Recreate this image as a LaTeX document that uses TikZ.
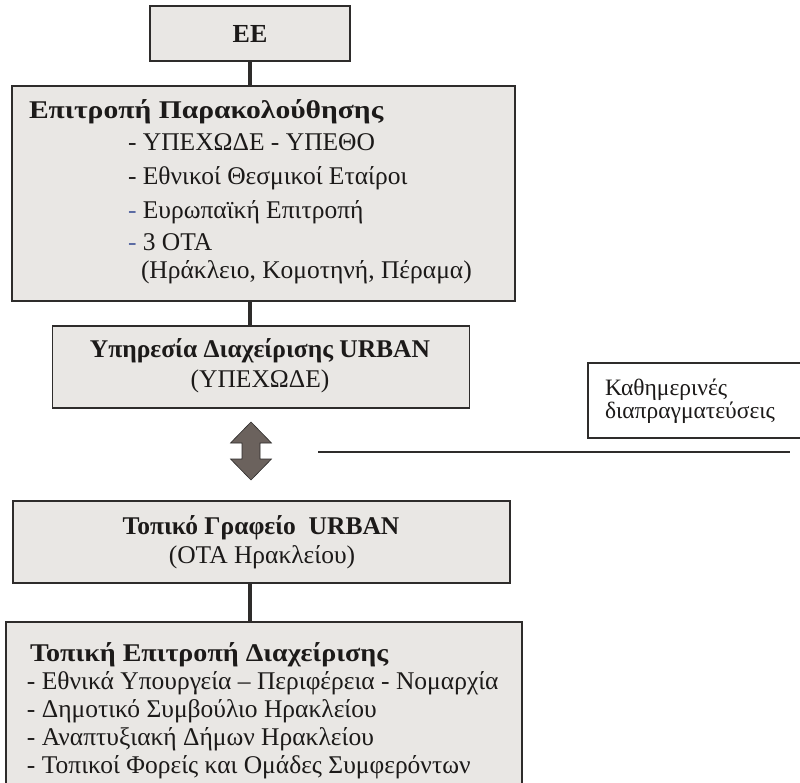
\documentclass[tikz,border=0pt]{standalone}
\usepackage{fontspec}
\usepackage{graphicx}
\setmainfont{Liberation Serif}
\definecolor{boxfill}{HTML}{E9E7E4}
\definecolor{ink}{HTML}{1C1A19}
\definecolor{edge}{HTML}{2E2C2B}
\definecolor{arrowfill}{HTML}{6B625D}
\definecolor{dashblue}{HTML}{5566A0}
\tikzset{
  box/.style={draw=edge, fill=boxfill, line width=1.4pt, inner sep=0pt, outer sep=0pt, anchor=north west},
  plain/.style={draw=edge, fill=white, line width=1.2pt, inner sep=0pt, outer sep=0pt, anchor=north west},
  txt/.style={inner sep=0pt, outer sep=0pt, text=ink, font=\fontsize{25.5}{28}\selectfont},
  btxt/.style={txt, font=\fontsize{25.5}{28}\selectfont\bfseries},
  stxt/.style={txt, font=\fontsize{23.5}{26}\selectfont},
  conn/.style={draw=edge, line width=4pt},
  thin/.style={draw=edge, line width=1.3pt},
}
\begin{document}
\begin{tikzpicture}[x=1pt,y=-1pt]
\useasboundingbox (0,0) rectangle (800,783);
\clip (0,0) rectangle (800,783);
\fill[white] (0,0) rectangle (800,783);
% boxes
\node[box, minimum width=200pt, minimum height=55pt] (b1) at (150,6) {};
\node[box, minimum width=503pt, minimum height=215pt] (b2) at (12,86) {};
\node[box, minimum width=417pt, minimum height=82pt] (b3) at (52.5,326) {};
\node[box, minimum width=497pt, minimum height=82pt] (b4) at (13,501) {};
\node[box, minimum width=516pt, minimum height=180pt] (b5) at (6,622) {};
\node[plain, minimum width=230pt, minimum height=75pt] (side) at (588,363) {};
% connectors
\draw[conn] (b1.south) -- (b1.south |- b2.north);
\draw[conn] (b1.south |- b2.south) -- (b1.south |- b3.north);
\draw[conn] (b1.south |- b4.south) -- (b1.south |- b5.north);
% double arrow
\coordinate (atop) at (251,422);
\coordinate (abot) at (251,480);
\fill[arrowfill, draw=edge, line width=0.6pt]
  (atop) -- ++(20.5,21) -- ++(-11.5,0) -- ++(0,16) -- ++(11.5,0) -- (abot)
  -- ++(-20.5,-21) -- ++(11.5,0) -- ++(0,-16) -- ++(-11.5,0) -- cycle;
% horizontal line
\coordinate (hl) at (318,452);
\coordinate (hr) at (790,452);
\draw[thin] (hl) -- (hr);
% texts
\node[btxt, font=\fontsize{26}{28}\selectfont\bfseries] (t1) at (b1.center) {EE};
\node[btxt, anchor=base west] (t2a) at (29,119) {\scalebox{1.16}[1]{Επιτροπή Παρακολούθησης}};
\node[txt, anchor=base west] (t2b) at (128,151) {- ΥΠΕΧΩΔΕ - ΥΠΕΘΟ};
\node[txt, anchor=base west] (t2c) at (128,185) {- Εθνικοί Θεσμικοί Εταίροι};
\node[txt, anchor=base west] (t2d) at (128,219) {{\color{dashblue}-} Ευρωπαϊκή Επιτροπή};
\node[txt, anchor=base west] (t2e) at (128,251) {{\color{dashblue}-} 3 ΟΤΑ};
\node[txt, anchor=base west] (t2f) at (141,279) {(Ηράκλειο, Κομοτηνή, Πέραμα)};
\node[btxt, anchor=base] (t3a) at (260,357) {Υπηρεσία Διαχείρισης URBAN};
\node[txt, anchor=base] (t3b) at (260,387) {(ΥΠΕΧΩΔΕ)};
\node[btxt, anchor=base] (t4a) at (261,534) {Τοπικό Γραφείο\ \ URBAN};
\node[txt, anchor=base] (t4b) at (262,563) {(ΟΤΑ Ηρακλείου)};
\node[btxt, anchor=base west] (t5a) at (30,661) {\scalebox{1.1}[1]{Τοπική Επιτροπή Διαχείρισης}};
\node[txt, anchor=base west] (t5b) at (27,689) {- Εθνικά Υπουργεία – Περιφέρεια - Νομαρχία};
\node[txt, anchor=base west] (t5c) at (27,717) {- Δημοτικό Συμβούλιο Ηρακλείου};
\node[txt, anchor=base west] (t5d) at (27,745) {- Αναπτυξιακή Δήμων Ηρακλείου};
\node[txt, anchor=base west] (t5e) at (27,773) {- Τοπικοί Φορείς και Ομάδες Συμφερόντων};
\node[stxt, anchor=base west] (s1) at (605,395) {Καθημερινές};
\node[stxt, anchor=base west] (s2) at (605,418) {διαπραγματεύσεις};
\end{tikzpicture}
\end{document}
